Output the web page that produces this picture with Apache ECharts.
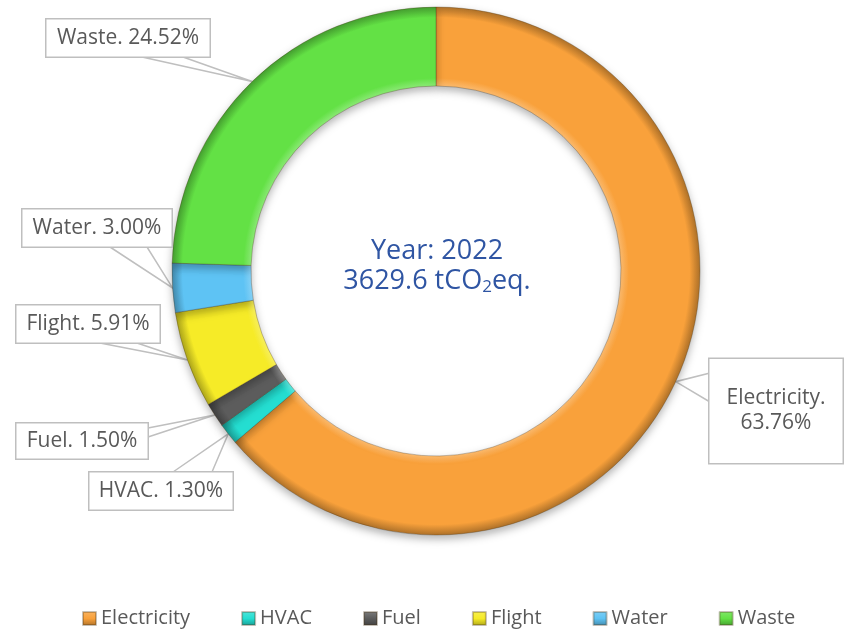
<!DOCTYPE html>
<html>
<head>
<meta charset="utf-8">
<title>Emissions by source 2022</title>
<script src="https://cdn.jsdelivr.net/npm/echarts@6/dist/echarts.min.js"></script>
<style>
  html, body { margin: 0; padding: 0; background: #fff; }
  #chart { width: 846px; height: 632px; }
</style>
</head>
<body>
<div id="chart"></div>
<script>
// values
const categories = ['Electricity', 'HVAC', 'Fuel', 'Flight', 'Water', 'Waste'];
const shares = [63.76, 1.30, 1.50, 5.91, 3.00, 24.52];
const reportYear = 2022;
const totalEmission = '3629.6';

const colors = ['#F9A13B', '#24DED1', '#5C5C5C', '#F6EB27', '#5EC3F4', '#63E145'];

// ring geometry (px)
const ringCenter = [436, 271];
const outerR = 264;
const innerR = 185;

// callout boxes: centre, width, vertical padding, and the two base points of the pointer
const callouts = [
  { x: 776, y: 411, w: 133, pad: 27, sep: '\n', base: [[710, 373], [710, 402]] },
  { x: 161, y: 491, w: 143, pad: 6, sep: ' ', base: [[173, 472], [212, 472]] },
  { x: 82, y: 441, w: 131, pad: 5, sep: ' ', base: [[148, 428], [148, 437]] },
  { x: 88, y: 324, w: 143, pad: 6, sep: ' ', base: [[100, 343], [137, 343]] },
  { x: 97, y: 228, w: 149, pad: 6, sep: ' ', base: [[110, 247], [147, 247]] },
  { x: 128, y: 38, w: 163, pad: 6, sep: ' ', base: [[142, 57], [183, 57]] }
];

function shade(hex, k) {
  const n = parseInt(hex.slice(1), 16);
  const ch = [(n >> 16) & 255, (n >> 8) & 255, n & 255].map(function (v) {
    return Math.max(0, Math.min(255, Math.round(k > 0 ? v + (255 - v) * k : v * (1 + k))));
  });
  return 'rgb(' + ch.join(',') + ')';
}

// bevel look on the ring
function ringFill(c) {
  return {
    type: 'radial', x: ringCenter[0], y: ringCenter[1], r: outerR, global: true,
    colorStops: [
      { offset: innerR / outerR, color: shade(c, 0.25) },
      { offset: innerR / outerR + 0.03, color: c },
      { offset: 0.96, color: c },
      { offset: 1, color: shade(c, -0.3) }
    ]
  };
}

function iconFill(c) {
  return {
    type: 'linear', x: 0, y: 0, x2: 0, y2: 1,
    colorStops: [
      { offset: 0, color: shade(c, 0.2) },
      { offset: 0.5, color: c },
      { offset: 1, color: shade(c, -0.3) }
    ]
  };
}

const pieData = categories.map(function (name, i) {
  return {
    name: name,
    value: shares[i],
    itemStyle: { color: ringFill(colors[i]) },
    label: { padding: [callouts[i].pad, 0, callouts[i].pad, 0] }
  };
});

const legendData = categories.map(function (name, i) {
  return { name: name, itemStyle: { color: iconFill(colors[i]) } };
});

const chart = echarts.init(document.getElementById('chart'));

const centerFont = { color: '#2F55A3', fontFamily: 'Open Sans', fontWeight: 'normal' };

chart.setOption({
  animation: false,
  title: {
    text: '{a|Year: ' + reportYear + '}\n{a|' + totalEmission + ' tCO}{s|2}{a|eq.}',
    left: 437,
    top: 236,
    textAlign: 'center',
    padding: 0,
    textStyle: {
      fontWeight: 'normal',
      rich: {
        a: Object.assign({ fontSize: 27, lineHeight: 30 }, centerFont),
        // small line height + bottom alignment drops the subscript below the baseline
        s: Object.assign({ fontSize: 17, lineHeight: 8, verticalAlign: 'bottom' }, centerFont)
      }
    }
  },
  legend: {
    data: legendData,
    left: 82,
    top: 608,
    padding: 0,
    itemWidth: 13,
    itemHeight: 13,
    itemGap: 51,
    icon: 'rect',
    textStyle: { fontSize: 20, lineHeight: 21, color: '#595959', fontFamily: 'Open Sans' }
  },
  series: [
    {
      type: 'pie',
      center: ringCenter,
      radius: [innerR, outerR],
      startAngle: 90,
      clockwise: true,
      avoidLabelOverlap: false,
      emphasis: { disabled: true },
      itemStyle: {
        borderColor: 'rgba(70,50,20,0.3)',
        borderWidth: 1,
        shadowBlur: 9,
        shadowOffsetY: 4,
        shadowColor: 'rgba(0,0,0,0.3)'
      },
      label: {
        show: true,
        position: 'outside',
        formatter: function (p) {
          return p.name + '.' + callouts[p.dataIndex].sep + p.value.toFixed(2) + '%';
        },
        fontFamily: 'Open Sans',
        fontSize: 21,
        lineHeight: 25,
        color: '#595959',
        backgroundColor: '#fff',
        borderColor: '#BFBFBF',
        borderWidth: 1.5
      },
      labelLine: {
        show: true,
        length: 20,
        length2: 10,
        lineStyle: { color: '#BFBFBF', width: 1.5 }
      },
      labelLayout: function (params) {
        const c = callouts[params.dataIndex];
        const tip = params.labelLinePoints ? params.labelLinePoints[0] : null;
        const out = { x: c.x, y: c.y, align: 'center', verticalAlign: 'middle', width: c.w };
        if (tip) out.labelLinePoints = [c.base[0], tip, c.base[1]];
        return out;
      },
      data: pieData
    }
  ]
});
</script>
</body>
</html>
